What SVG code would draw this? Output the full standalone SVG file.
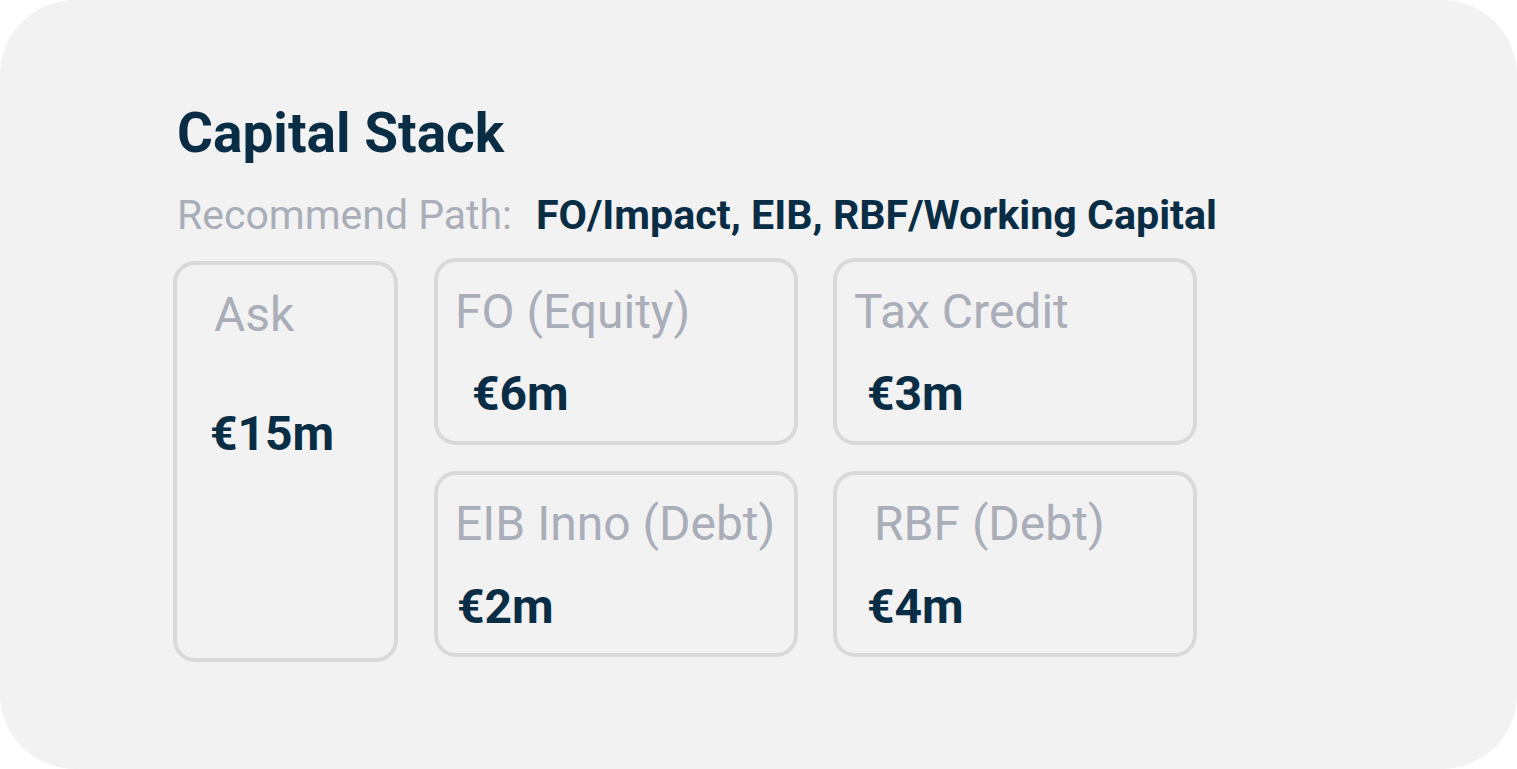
<svg xmlns="http://www.w3.org/2000/svg" width="1517" height="769" viewBox="0 0 1517 769">
<style>
.card{fill:#f2f2f2;stroke:#d9d9d9;stroke-width:4}
.lbl{font-family:Roboto,"Liberation Sans",sans-serif;font-size:48px;fill:#a9aeb9}
.val{font-family:Roboto,"Liberation Sans",sans-serif;font-size:48px;font-weight:700;fill:#0a2d46}
</style>
<rect x="0" y="0" width="1517" height="769" fill="#ffffff"/>
<rect x="0" y="0" width="1517" height="769" rx="75" ry="75" fill="#f2f2f2"/>
<text x="177" y="152" font-family="Roboto,'Liberation Sans',sans-serif" font-size="55" font-weight="700" fill="#0a2d46">Capital Stack</text>
<text x="177" y="229" font-family="Roboto,'Liberation Sans',sans-serif" font-size="40" fill="#a9aeb9" textLength="335" lengthAdjust="spacingAndGlyphs">Recommend Path:</text>
<text x="536" y="229" font-family="Roboto,'Liberation Sans',sans-serif" font-size="40" font-weight="700" fill="#0a2d46" textLength="681" lengthAdjust="spacingAndGlyphs">FO/Impact, EIB, RBF/Working Capital</text>
<g id="ask">
<rect class="card" x="175" y="263" width="221" height="397" rx="20"/>
<text class="lbl" x="214" y="331">Ask</text>
<text class="val" x="210" y="450">€15m</text>
</g>
<g id="fo">
<rect class="card" x="436" y="260" width="360" height="183" rx="20"/>
<text class="lbl" x="455" y="328">FO (Equity)</text>
<text class="val" x="472" y="410">€6m</text>
</g>
<g id="tax">
<rect class="card" x="835" y="260" width="360" height="183" rx="20"/>
<text class="lbl" x="854" y="328">Tax Credit</text>
<text class="val" x="867" y="410">€3m</text>
</g>
<g id="eib">
<rect class="card" x="436" y="473" width="360" height="182" rx="20"/>
<text class="lbl" x="455" y="540">EIB Inno (Debt)</text>
<text class="val" x="457" y="623">€2m</text>
</g>
<g id="rbf">
<rect class="card" x="835" y="473" width="360" height="182" rx="20"/>
<text class="lbl" x="874" y="540">RBF (Debt)</text>
<text class="val" x="867" y="623">€4m</text>
</g>
<g id="connectors"></g>
</svg>
